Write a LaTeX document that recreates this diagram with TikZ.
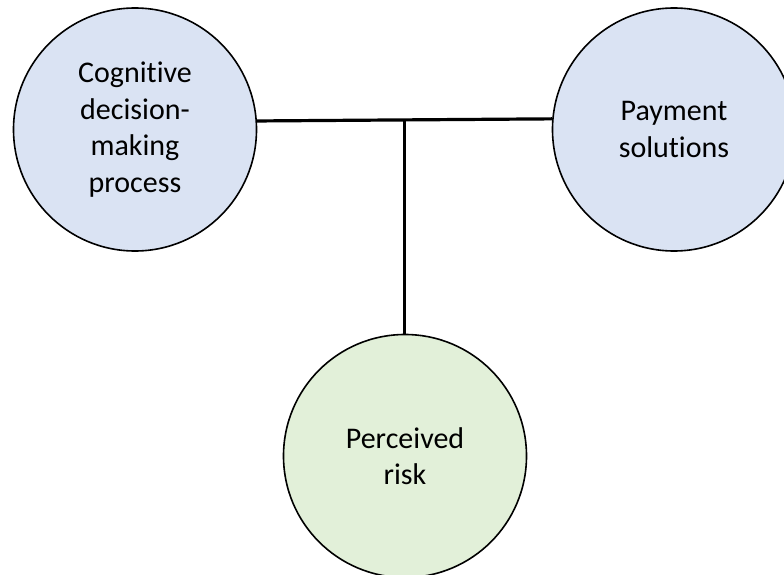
\documentclass[tikz,border=0pt]{standalone}
\usepackage{fontspec}
\setmainfont[Ligatures={NoCommon}]{Carlito}
\definecolor{topicblue}{RGB}{218,227,243}
\definecolor{topicgreen}{RGB}{226,240,217}
\usepackage{tikz}

\begin{document}
\begin{tikzpicture}[x=1pt,y=-1pt,
  topic/.style={circle,draw=black,line width=1.6pt,minimum size=243pt,inner sep=0pt,
    align=center,font=\fontsize{30}{36.5}\selectfont},
  link/.style={line width=3.2pt}]
\useasboundingbox (0,0) rectangle (784,575);
% Circles
\node[topic,fill=topicblue] (cognitive) at (135,129.5) {Cognitive\\decision-\\making\\process};
\node[topic,fill=topicblue] (payment) at (674,129.5) {Payment\\solutions};
\node[topic,fill=topicgreen] (risk) at (405,456) {Perceived\\risk};

% Connectors
\draw[link] (cognitive.4.3) -- coordinate[pos=0.5] (junction) (payment.175.7);
\draw[link] (junction) -- (junction |- risk.north);
\end{tikzpicture}
\end{document}
